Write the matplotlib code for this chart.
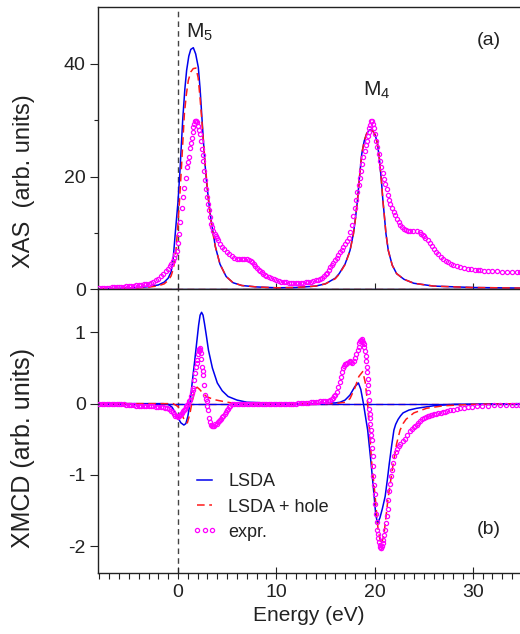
#!/usr/bin/env python

import matplotlib
matplotlib.use("Agg")
import matplotlib.pyplot as plt

plt.rcParams['font.family'] = ['Liberation Sans', 'DejaVu Sans']
plt.rcParams['mathtext.fontset'] = 'custom'
plt.rcParams['mathtext.rm'] = 'Liberation Sans'
plt.rcParams['mathtext.it'] = 'Liberation Sans:italic'

# ---- XAS (panel a) ----
lsda_xas_e = [-8, -6, -4, -3, -2, -1.4, -1, -0.7, -0.5, -0.25, 0, 0.2, 0.48, 0.7, 0.88,
              1.1, 1.3, 1.56, 1.8, 2.07, 2.25, 2.41, 2.58, 2.75, 2.9, 3.08, 3.25, 3.43,
              3.8, 4.27, 4.9, 5.6, 6.5, 8, 10, 12, 14, 15, 16, 16.4, 17, 17.5, 17.85,
              18.05, 18.26, 18.5, 18.7, 18.95, 19.2, 19.45, 19.63, 19.85, 20.06, 20.3,
              20.5, 20.7, 20.85, 21.0, 21.16, 21.4, 21.8, 22.25, 23, 24, 26, 30, 35]
lsda_xas = [0.1, 0.2, 0.35, 0.5, 0.8, 1.3, 2.0, 3.1, 5.2, 10.5, 15.5, 21, 30, 35.5, 38.8,
            41.3, 42.5, 42.8, 41.7, 39.3, 35.5, 31.1, 26.5, 22.2, 19.2, 16.3, 13.8, 11.6,
            7.6, 4.5, 2.3, 1.2, 0.7, 0.45, 0.3, 0.35, 0.6, 1.0, 2.0, 2.8, 4.5, 6.9, 9.9,
            12.5, 15.75, 20.5, 24.0, 26.3, 27.6, 28.2, 28.3, 28.0, 27.4, 25.8,
            23.0, 19.2, 15.75, 13.0, 9.9, 6.9, 4.3, 2.8, 1.8, 1.1, 0.6, 0.35, 0.25]

hole_xas_e = [-8, -6, -4, -3, -2, -1.4, -1, -0.7, -0.45, -0.2, 0, 0.2, 0.37, 0.65, 0.85,
              1.05, 1.3, 1.55, 1.83, 2.05, 2.24, 2.41, 2.58, 2.75, 2.92, 3.08, 3.26, 3.43,
              3.6, 3.8, 4.27, 4.9, 5.6, 6.5, 8, 10, 12, 14, 15, 16, 16.4, 17, 17.5, 17.85,
              18.05, 18.26, 18.5, 18.7, 18.95, 19.2, 19.45, 19.63, 19.85, 20.06, 20.3,
              20.5, 20.7, 20.85, 21.0, 21.16, 21.4, 21.8, 22.25, 23, 24, 26, 30, 35]
hole_xas = [0.1, 0.15, 0.3, 0.4, 0.65, 1.0, 1.6, 2.4, 3.8, 7.0, 11.6, 17.0, 22.2, 31.1, 34.5,
            37.0, 38.5, 39.1, 39.2, 37.5, 34.0, 30.3, 26.4, 22.6, 19.3, 16.3, 13.4, 11.3,
            9.5, 7.6, 4.5, 2.3, 1.2, 0.7, 0.45, 0.3, 0.35, 0.6, 1.0, 1.9, 2.7, 4.4, 6.8, 9.8,
            12.4, 15.7, 20.4, 24.0, 26.3, 27.6, 28.2, 28.3, 28.0, 27.4, 25.8,
            23.0, 19.2, 15.75, 13.0, 9.9, 6.9, 4.3, 2.8, 1.8, 1.1, 0.6, 0.35, 0.25]

expr_xas_e = [-8, -7.75, -7.5, -7.25, -7, -6.75, -6.5, -6.25, -6, -5.75, -5.5, -5.25, -5,
              -4.75, -4.5, -4.25, -4, -3.75, -3.5, -3.25, -3, -2.75, -2.5, -2.25, -2, -1.75,
              -1.5, -1.25, -1, -0.85, -0.7, -0.55, -0.4, -0.27, -0.15, 0.0, 0.13, 0.25, 0.37,
              0.5, 0.65, 0.77, 0.88, 1.0, 1.09, 1.22, 1.3, 1.39, 1.48, 1.56, 1.64, 1.72, 1.8,
              1.88, 1.96, 2.07, 2.15, 2.24, 2.32, 2.41, 2.5, 2.58, 2.66, 2.75, 2.83, 2.92,
              3.04, 3.16, 3.26, 3.36, 3.48, 3.6, 3.72, 3.85, 3.97, 4.1, 4.3, 4.5, 4.7, 4.96,
              5.2, 5.5, 5.75, 6.0, 6.25, 6.5, 6.75, 7.0, 7.2, 7.4, 7.55, 7.7, 7.85, 8.0, 8.2,
              8.35, 8.5, 8.7, 8.85, 9.0, 9.25, 9.5, 9.75, 10.0, 10.25, 10.5, 10.75, 11.0,
              11.25, 11.5, 11.75, 12.0, 12.25, 12.5, 12.75, 13.0, 13.25, 13.5, 13.75, 14.0,
              14.25, 14.5, 14.7, 14.9, 15.05, 15.2, 15.35, 15.5, 15.65, 15.8, 16.0, 16.15,
              16.3, 16.5, 16.65, 16.8, 17.0, 17.15, 17.35, 17.5, 17.7, 17.85, 18.0, 18.12,
              18.25, 18.37, 18.5, 18.62, 18.75, 18.87, 19.0, 19.1, 19.2, 19.3, 19.4, 19.48,
              19.55, 19.62, 19.7, 19.8, 19.93, 20.06, 20.18, 20.3, 20.44, 20.57, 20.7,
              20.85, 20.97, 21.1, 21.22, 21.35, 21.47, 21.6, 21.77, 21.95, 22.12, 22.3,
              22.45, 22.6, 22.78, 22.95, 23.15, 23.4, 23.65, 23.96, 24.3, 24.6, 24.75, 24.9,
              25.03, 25.15, 25.4, 25.6, 25.8, 26.0, 26.25, 26.5, 26.75, 27.0, 27.25, 27.5,
              27.75, 28.0, 28.35, 28.7, 29.1, 29.5, 29.85, 30.2, 30.5, 30.75, 31.1, 31.5,
              32.0, 32.5, 33.0, 33.5, 34.0, 34.5, 34.8]
expr_xas = [0.3, 0.3, 0.3, 0.32, 0.35, 0.37, 0.4, 0.42, 0.45, 0.48, 0.5, 0.55, 0.6,
            0.65, 0.7, 0.75, 0.8, 0.85, 0.9, 0.97, 1.05, 1.2, 1.4, 1.6, 1.9, 2.3,
            2.7, 3.2, 3.7, 4.1, 4.5, 5.0, 5.6, 6.2, 6.9, 8.2, 9.8, 12.0, 14.5,
            16.3, 18.0, 19.8, 21.6, 22.6, 23.4, 25.1, 26.0, 26.9, 27.8, 28.7, 29.3, 29.8, 29.9,
            29.9, 29.6, 29.0, 28.3, 27.5, 26.2, 24.9, 23.8, 22.8, 21.0, 19.3, 17.8, 16.3,
            15.1, 14.0, 12.8, 11.6, 11.0, 10.4, 9.9, 9.5, 9.1, 8.7, 8.1, 7.6, 7.1, 6.6,
            6.2, 5.9, 5.6, 5.4, 5.4, 5.4, 5.4, 5.4, 5.2, 5.0, 4.8, 4.5, 4.1, 3.8, 3.5,
            3.3, 3.05, 2.8, 2.6, 2.4, 2.2, 2.0, 1.8, 1.6, 1.5, 1.4, 1.3, 1.25,
            1.2, 1.15, 1.1, 1.1, 1.1, 1.15, 1.2, 1.25, 1.3, 1.35, 1.45, 1.6,
            1.75, 1.9, 2.1, 2.4, 2.7, 3.0, 3.4, 3.9, 4.3, 4.7, 5.2, 5.6,
            6.1, 6.6, 7.0, 7.5, 8.0, 8.5, 9.2, 10.2, 11.5, 13.0, 14.5, 15.8,
            17.2, 18.5, 19.8, 21.0, 22.3, 23.5, 24.6, 25.5, 26.3, 27.1, 27.8, 28.5,
            29.2, 29.8, 29.9, 29.3, 28.5, 27.5, 26.3, 25.2, 24.0, 22.8, 21.7,
            20.6, 19.6, 18.7, 17.7, 16.8, 15.9, 15.1, 14.4, 13.7, 13.1, 12.5,
            12.0, 11.5, 11.0, 10.7, 10.5, 10.4, 10.35, 10.3, 10.3, 10.1, 9.9, 9.7,
            9.45, 9.2, 8.7, 8.2, 7.7, 7.2, 6.7, 6.3, 5.8, 5.4, 5.1, 4.8,
            4.55, 4.3, 4.1, 3.9, 3.75, 3.6, 3.55, 3.5, 3.45, 3.4, 3.35, 3.3,
            3.25, 3.2, 3.18, 3.15, 3.12, 3.1, 3.1]

# ---- XMCD (panel b) ----
lsda_mcd_e = [-8, -3, -1.5, -1.0, -0.6, -0.3, 0.0, 0.3, 0.6, 0.8, 1.0, 1.22, 1.45, 1.7, 1.9,
              2.1, 2.25, 2.4, 2.55, 2.7, 2.9, 3.1, 3.5, 4.0, 4.5, 5.1, 6, 7, 9, 12, 14, 16,
              16.5, 17, 17.5, 18, 18.36, 18.6, 18.87, 19.1, 19.3, 19.65, 19.96, 20.12, 20.3,
              20.55, 20.8, 21.08, 21.3, 21.5, 21.75, 21.97, 22.15, 22.4, 22.65, 22.9, 23.5,
              24.3, 26, 28, 35]
lsda_mcd = [0, 0, 0, -0.01, -0.05, -0.12, -0.2, -0.27, -0.3, -0.28, -0.18, 0.0, 0.3, 0.6, 0.85,
            1.1, 1.24, 1.28, 1.24, 1.12, 0.94, 0.75, 0.5, 0.29, 0.18, 0.1, 0.05, 0.02, 0.01, 0, 0, 0.01,
            0.02, 0.05, 0.12, 0.24, 0.29, 0.2, 0.0, -0.2, -0.37, -0.84, -1.3, -1.55, -1.68,
            -1.6, -1.47, -1.3, -1.07, -0.84, -0.58, -0.37, -0.29, -0.22, -0.17, -0.13, -0.09,
            -0.065, -0.03, -0.01, 0]

hole_mcd_e = [-8, -1, -0.5, 0.0, 0.4, 0.7, 0.95, 1.2, 1.4, 1.6, 1.8, 1.95, 2.2, 2.5, 2.9, 3.4,
              3.9, 5, 6, 16, 17, 17.5, 18, 18.4, 18.8, 19.05, 19.3, 19.48, 19.72, 20.06,
              20.35, 20.65, 20.95, 21.15, 21.4, 21.9, 22.25, 22.6, 22.9, 23.2, 24.0, 25.3,
              27, 30, 35]
hole_mcd = [0, 0, 0, -0.04, -0.15, -0.25, -0.27, -0.15, 0.0, 0.12, 0.21, 0.23, 0.2, 0.15, 0.1, 0.07,
            0.05, 0.02, 0.0, 0.0, 0.02, 0.07, 0.22, 0.38, 0.45, 0.3, 0.0, -0.37, -0.84, -1.3,
            -1.75, -1.98, -1.85, -1.6, -1.3, -0.84, -0.56, -0.37, -0.28, -0.22, -0.13, -0.065,
            -0.03, -0.01, 0]

expr_mcd_e = [-8.0, -7.75, -7.5, -7.25, -7.0, -6.75, -6.5, -6.25, -6.0, -5.75, -5.5, -5.25,
              -5.0, -4.75, -4.5, -4.25, -4.0, -3.75, -3.5, -3.25, -3.0, -2.75, -2.5, -2.25,
              -2.0, -1.75, -1.5, -1.3, -1.1, -0.9, -0.7, -0.55, -0.4, -0.27, -0.13, 0.03,
              0.12, 0.2, 0.28, 0.37, 0.48, 0.6, 0.72, 0.85, 0.95, 1.05, 1.14, 1.22, 1.31,
              1.4, 1.48, 1.56, 1.66, 1.73, 1.83, 1.9, 1.97, 2.07, 2.12, 2.17, 2.24, 2.27,
              2.31, 2.36, 2.41, 2.5, 2.58, 2.68, 2.78, 2.85, 2.92, 3.0, 3.09, 3.19, 3.28,
              3.36, 3.45, 3.53, 3.65, 3.8, 3.92, 4.05, 4.17, 4.28, 4.4, 4.5, 4.62, 4.75,
              4.85, 4.96, 5.08, 5.2, 5.33, 5.47, 5.7, 6.0, 6.25, 6.5, 6.75, 7.0, 7.25, 7.5,
              7.75, 8.0, 8.25, 8.5, 8.75, 9.0, 9.25, 9.5, 9.75, 10.0, 10.25, 10.5, 10.75,
              11.0, 11.25, 11.5, 11.75, 12.0, 12.25, 12.5, 12.75, 13.0, 13.25, 13.5, 13.75,
              14.0, 14.25, 14.5, 14.75, 15.0, 15.25, 15.5, 15.65, 15.8, 15.9, 16.0, 16.15,
              16.3, 16.44, 16.57, 16.7, 16.84, 16.92, 17.0, 17.1, 17.2, 17.35, 17.5, 17.62,
              17.75, 17.87, 18.0, 18.13, 18.27, 18.37, 18.46, 18.53, 18.6, 18.7, 18.76,
              18.82, 18.88, 18.94, 19.02, 19.1, 19.15, 19.2, 19.25, 19.3, 19.34, 19.38,
              19.43, 19.48, 19.52, 19.55, 19.58, 19.62, 19.67, 19.72, 19.75, 19.8, 19.84,
              19.88, 19.95, 20.02, 20.09, 20.16, 20.23, 20.3, 20.35, 20.4, 20.46, 20.52,
              20.58, 20.64, 20.7, 20.77, 20.84, 20.9, 21.0, 21.08, 21.16, 21.25, 21.33,
              21.4, 21.5, 21.6, 21.68, 21.76, 21.9, 22.03, 22.15, 22.28, 22.45, 22.6, 22.85,
              23.1, 23.35, 23.6, 23.8, 24.0, 24.15, 24.3, 24.45, 24.6, 24.8, 25.0, 25.2,
              25.4, 25.55, 25.7, 25.85, 26.0, 26.25, 26.5, 26.75, 27.0, 27.2, 27.4, 27.7,
              28.0, 28.35, 28.7, 29.1, 29.5, 29.95, 30.4, 30.95, 31.5, 32.15, 32.8, 33.4,
              34.0, 34.4, 34.8]
expr_mcd = [0.0, 0.0, 0.0, -0.01, -0.01, 0.0, 0.0, -0.01, -0.01, -0.01, -0.01, -0.02,
            -0.02, -0.02, -0.02, -0.03, -0.03, -0.04, -0.04, -0.04, -0.04, -0.04, -0.04, -0.05,
            -0.05, -0.05, -0.05, -0.06, -0.06, -0.08, -0.1, -0.12, -0.15, -0.17, -0.18, -0.19,
            -0.18, -0.16, -0.15, -0.13, -0.11, -0.09, -0.07, -0.04, -0.02, 0.0, 0.03, 0.05, 0.1,
            0.15, 0.19, 0.22, 0.33, 0.43, 0.52, 0.57, 0.61, 0.7, 0.74, 0.76, 0.78, 0.75,
            0.71, 0.62, 0.52, 0.46, 0.40, 0.26, 0.12, 0.07, 0.03, -0.03, -0.09, -0.2, -0.26,
            -0.3, -0.32, -0.32, -0.31, -0.29, -0.28, -0.26, -0.25, -0.23, -0.21, -0.19, -0.17, -0.14,
            -0.12, -0.09, -0.07, -0.05, -0.03, -0.01, 0.0, 0.0, 0.0, 0.0, -0.01, -0.01, -0.01, -0.01,
            0.0, 0.0, -0.01, -0.01, -0.01, -0.01, 0.0, 0.0, -0.01, -0.01, -0.01, -0.01, 0.0,
            0.0, 0.0, 0.0, 0.0, 0.0, 0.01, 0.01, 0.01, 0.01, 0.01, 0.02, 0.02,
            0.02, 0.02, 0.03, 0.03, 0.04, 0.04, 0.05, 0.06, 0.08, 0.1, 0.12, 0.17,
            0.24, 0.31, 0.38, 0.44, 0.5, 0.53, 0.55, 0.56, 0.57, 0.59, 0.6, 0.59,
            0.57, 0.6, 0.64, 0.69, 0.75, 0.8, 0.85, 0.88, 0.89, 0.9, 0.88,
            0.86, 0.83, 0.8, 0.74, 0.67, 0.6, 0.52, 0.44, 0.35, 0.26, 0.17,
            0.05, -0.07, -0.14, -0.2, -0.28, -0.37, -0.44, -0.51, -0.62, -0.74, -0.88,
            -1.02, -1.14, -1.26, -1.4, -1.54, -1.66, -1.77, -1.83, -1.89, -1.94, -1.98,
            -2.01, -2.03, -2.02, -1.99, -1.95, -1.91, -1.84, -1.77, -1.68, -1.58, -1.47,
            -1.35, -1.23, -1.12, -1.02, -0.93, -0.83, -0.74, -0.68, -0.63, -0.59, -0.56, -0.52,
            -0.49, -0.44, -0.39, -0.36, -0.33, -0.31, -0.3, -0.27, -0.25, -0.22, -0.2, -0.19,
            -0.18, -0.17, -0.16, -0.155, -0.15, -0.14, -0.13, -0.125, -0.12, -0.115, -0.11, -0.095,
            -0.085, -0.075, -0.065, -0.057, -0.05, -0.045, -0.04, -0.035, -0.03, -0.025, -0.02, -0.02,
            -0.02, -0.02, -0.02]

series_labels = ["LSDA", "LSDA + hole", "expr."]

BLUE = "#0000ee"
RED = "#ff1a1a"
MAG = "#ff00ff"
TXT = "#222222"


def style_axis(ax):
    for s in ax.spines.values():
        s.set_linewidth(1.0)
        s.set_color(TXT)
    ax.spines['right'].set_visible(False)
    ax.set_xlim(-8.11, 34.8)
    ax.set_xticks([0, 10, 20, 30])
    ax.set_xticks(range(-8, 35), minor=True)
    ax.tick_params(axis='x', which='major', direction='inout', length=9, width=0.8,
                   colors=TXT, labelsize=14, top=False)
    ax.tick_params(axis='x', which='minor', direction='out', length=4, width=0.8,
                   colors=TXT, top=False)
    ax.tick_params(axis='y', which='major', direction='out', length=6, width=0.8,
                   colors=TXT, labelsize=14, pad=3)
    ax.tick_params(axis='y', which='minor', direction='out', length=3, width=0.8,
                   colors=TXT)
    ax.axvline(0, color="#444444", lw=1.0, ls=(0, (4, 3)), zorder=1)


def main():
    fig = plt.figure(figsize=(5.2, 6.34), dpi=100)
    ax1 = fig.add_axes([0.189, 0.5434, 0.811, 0.4455])
    ax2 = fig.add_axes([0.189, 0.0970, 0.811, 0.4464])

    mk = dict(ls='none', marker='o', ms=3.0, mfc='none', mec=MAG, mew=0.9, zorder=4)

    # panel (a)
    style_axis(ax1)
    ax1.axhline(0, color=BLUE, lw=1.0, zorder=2)
    ax1.axhline(0, color=RED, lw=1.0, ls=(0, (5, 3)), zorder=2)
    ax1.plot(lsda_xas_e, lsda_xas, color=BLUE, lw=1.1, zorder=3)
    ax1.plot(hole_xas_e, hole_xas, color=RED, lw=1.1, ls=(0, (5, 3)), zorder=3)
    ax1.plot(expr_xas_e, expr_xas, **mk)
    ax1.set_ylim(0, 50)
    ax1.set_yticks([0, 20, 40])
    ax1.set_yticks([10, 30], minor=True)
    ax1.tick_params(axis='x', labelbottom=False)
    ax1.set_ylabel("XAS  (arb. units)", fontsize=17, color=TXT)
    ax1.text(2.2, 45.6, "M$_5$", fontsize=15, color=TXT, ha='center', va='center')
    ax1.text(20.2, 35.2, "M$_4$", fontsize=15, color=TXT, ha='center', va='center')
    ax1.text(0.927, 0.88, "(a)", transform=ax1.transAxes, fontsize=14, color=TXT,
             ha='center', va='center')

    # panel (b)
    style_axis(ax2)
    ax2.axhline(0, color=RED, lw=1.0, ls=(0, (5, 3)), zorder=2)
    ax2.axhline(0, color=BLUE, lw=1.0, zorder=2)
    l1, = ax2.plot(lsda_mcd_e, lsda_mcd, color=BLUE, lw=1.1, zorder=3)
    l2, = ax2.plot(hole_mcd_e, hole_mcd, color=RED, lw=1.1, ls=(0, (5, 3)), zorder=3)
    l3, = ax2.plot(expr_mcd_e, expr_mcd, **mk)
    ax2.set_ylim(-2.367, 1.6)
    ax2.set_yticks([-2, -1, 0, 1])
    ax2.set_yticklabels(["-2", "-1", "0", "1"])
    ax2.set_xlabel("Energy (eV)", fontsize=15, color=TXT, labelpad=4)
    ax2.set_ylabel("XMCD (arb. units)", fontsize=18, color=TXT)
    ax2.text(0.927, 0.152, "(b)", transform=ax2.transAxes, fontsize=14, color=TXT,
             ha='center', va='center')
    ax2.legend([l1, l2, l3], series_labels, loc='upper left', bbox_to_anchor=(0.222, 0.35),
               frameon=False, fontsize=13, handlelength=1.4, handletextpad=0.6,
               labelspacing=0.45, borderpad=0, borderaxespad=0, numpoints=3,
               labelcolor=TXT)

    ax1.yaxis.set_label_coords(-0.15, 0.385)
    ax2.yaxis.set_label_coords(-0.15, 0.44)

    fig.savefig("out.png", dpi=100)


if __name__ == "__main__":
    main()
